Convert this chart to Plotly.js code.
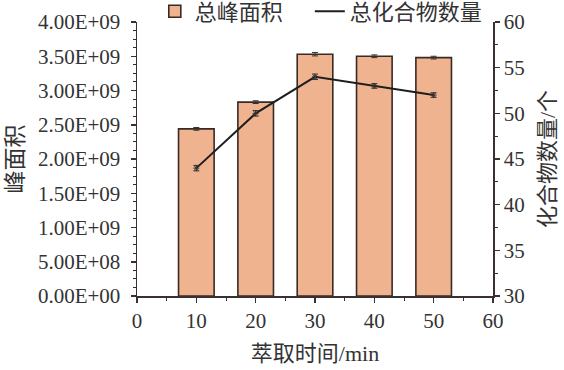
<!DOCTYPE html>
<html><head><meta charset="utf-8">
<script src="https://cdn.plot.ly/plotly-3.0.1.min.js"></script>
<style>body{margin:0;background:#fff}#c{width:564px;height:370px}</style>
</head><body><div id="c"></div>
<script>
const times = [10, 20, 30, 40, 50];
const peakArea = [2.44e9, 2.83e9, 3.53e9, 3.50e9, 3.48e9];
const peakAreaErr = [0.02e9, 0.02e9, 0.025e9, 0.02e9, 0.02e9];
const compoundCount = [44, 50, 54, 53, 52];
const compoundErr = [0.3, 0.3, 0.3, 0.25, 0.25];
const yTickVals = [0, 5e8, 1e9, 1.5e9, 2e9, 2.5e9, 3e9, 3.5e9, 4e9];
const yTickText = ['0.00E+00','5.00E+08','1.00E+09','1.50E+09','2.00E+09','2.50E+09','3.00E+09','3.50E+09','4.00E+09'];

const fontFam = '"Liberation Serif", "Noto Sans CJK SC", serif';
const axCol = '#3a3030';

const traces = [
  {
    type: 'bar', x: times, y: peakArea, name: '总峰面积\u3000', width: 6,
    marker: {color: '#F0B38F', line: {color: '#3a2a25', width: 1.6}},
    error_y: {type: 'data', array: peakAreaErr, visible: true, color: '#333', thickness: 1, width: 3}
  },
  {
    type: 'scatter', mode: 'lines', x: times, y: compoundCount, yaxis: 'y2', name: '总化合物数量',
    line: {color: '#1e1e1e', width: 2}
  },
  {
    type: 'scatter', mode: 'markers', x: times, y: compoundCount, yaxis: 'y2', name: '总化合物数量', showlegend: false,
    marker: {symbol: 'asterisk-open', size: 5, color: '#333', line: {width: 1, color: '#333'}},
    error_y: {type: 'data', array: compoundErr, visible: true, color: '#333', thickness: 1, width: 3}
  }
];

const layout = {
  width: 564, height: 370,
  margin: {l: 137, r: 71, t: 22, b: 74, autoexpand: false},
  paper_bgcolor: '#fff', plot_bgcolor: '#fff',
  font: {family: fontFam, size: 21, color: '#333'},
  showlegend: true,
  legend: {orientation: 'h', x: 0.05, xanchor: 'left', y: 1.115, yanchor: 'top',
    font: {size: 22, color: '#333'}, bgcolor: 'rgba(0,0,0,0)', itemwidth: 30, tracegroupgap: 0},
  xaxis: {
    range: [0, 60], tickvals: [0,10,20,30,40,50,60], ticks: 'outside', ticklen: 5, tickwidth: 1.5, tickcolor: axCol,
    minor: {dtick: 5, ticks: 'outside', ticklen: 3, tickcolor: axCol, tickwidth: 1},
    showline: true, linecolor: axCol, linewidth: 1.5, showgrid: false, zeroline: false,
    title: {text: '萃取时间/min', font: {size: 22}, standoff: 14}
  },
  yaxis: {
    range: [0, 4e9], tickvals: yTickVals, ticktext: yTickText, ticks: 'outside', ticklen: 5, tickwidth: 1.5, tickcolor: axCol,
    ticklabelstandoff: 6,
    minor: {dtick: 1.25e8, ticks: 'outside', ticklen: 3, tickcolor: axCol, tickwidth: 1},
    showline: true, linecolor: axCol, linewidth: 1.5, showgrid: false, zeroline: false,
    title: {text: '峰面积', font: {size: 23}, standoff: 8}
  },
  yaxis2: {
    range: [30, 60], dtick: 5, overlaying: 'y', side: 'right', ticks: 'outside', ticklen: 5, tickwidth: 1.5, tickcolor: axCol,
    minor: {dtick: 2.5, ticks: 'outside', ticklen: 3, tickcolor: axCol, tickwidth: 1},
    showline: true, linecolor: axCol, linewidth: 1.5, showgrid: false, zeroline: false,
    title: {text: '化合物数量/个', font: {size: 22}, standoff: 16}
  }
};
Plotly.newPlot('c', traces, layout, {displayModeBar: false, staticPlot: true});
</script></body></html>
